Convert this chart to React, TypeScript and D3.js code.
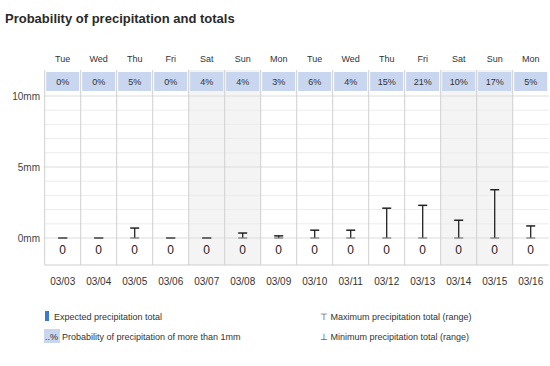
import { useEffect, useRef } from 'react';
import * as d3 from 'd3';

const dates = ['03/03', '03/04', '03/05', '03/06', '03/07', '03/08', '03/09', '03/10', '03/11', '03/12', '03/13', '03/14', '03/15', '03/16'];
const weekdays = ['Tue', 'Wed', 'Thu', 'Fri', 'Sat', 'Sun', 'Mon', 'Tue', 'Wed', 'Thu', 'Fri', 'Sat', 'Sun', 'Mon'];
const probability = [0, 0, 5, 0, 4, 4, 3, 6, 4, 15, 21, 10, 17, 5];
const expectedTotal = [0, 0, 0, 0, 0, 0, 0, 0, 0, 0, 0, 0, 0, 0];
const minTotal = [0, 0, 0, 0, 0, 0, 0, 0, 0, 0, 0, 0, 0, 0];
const maxTotal = [0, 0, 0.7, 0, 0, 0.35, 0.15, 0.55, 0.55, 2.1, 2.3, 1.25, 3.4, 0.85];
const yTicks = [0, 5, 10];
const gridTicks = [0, 1, 2, 3, 4, 5, 6, 7, 8, 9, 10];

const App = () => {
    const svgRef = useRef<SVGSVGElement>(null);

    useEffect(() => {
        const svg = d3.select(svgRef.current);
        svg.selectAll('*').remove();

        const plotTop = 70;
        const plotBottom = 265;
        const font = "'Liberation Sans', Arial, sans-serif";

        const x = d3.scaleBand().domain(dates).range([44.7, 548.7]).padding(0);
        const y = d3.scaleLinear().domain([0, 10]).range([238, 96]);

        svg.append('text')
            .attr('x', 5).attr('y', 23)
            .attr('font-family', font).attr('font-size', 13).attr('font-weight', 'bold')
            .attr('fill', '#2a2a2a')
            .text('Probability of precipitation and totals');

        // weekend shading
        svg.selectAll('.weekend')
            .data(dates.filter((d, i) => weekdays[i] === 'Sat' || weekdays[i] === 'Sun'))
            .enter().append('rect')
            .attr('x', d => x(d)!).attr('y', plotTop)
            .attr('width', x.bandwidth()).attr('height', plotBottom - plotTop)
            .attr('fill', '#f4f4f4');

        // horizontal grid
        svg.selectAll('.grid')
            .data(gridTicks)
            .enter().append('line')
            .attr('x1', 44.7).attr('x2', 548.7)
            .attr('y1', d => y(d)).attr('y2', d => y(d))
            .attr('stroke', d => d % 5 === 0 ? '#dcdcdc' : '#ececec')
            .attr('stroke-width', 1);

        // column separators
        svg.selectAll('.sep')
            .data(dates)
            .enter().append('line')
            .attr('x1', d => x(d)!).attr('x2', d => x(d)!)
            .attr('y1', plotTop).attr('y2', plotBottom)
            .attr('stroke', '#cfcfcf');

        svg.append('line')
            .attr('x1', 44.7).attr('x2', 548.7)
            .attr('y1', plotBottom).attr('y2', plotBottom)
            .attr('stroke', '#cfcfcf');

        // weekday labels
        svg.selectAll('.wd')
            .data(dates)
            .enter().append('text')
            .attr('x', d => x(d)! + x.bandwidth() / 2).attr('y', 62)
            .attr('text-anchor', 'middle')
            .attr('font-family', font).attr('font-size', 9).attr('fill', '#333')
            .text((d, i) => weekdays[i]);

        // probability boxes
        svg.selectAll('.pbox')
            .data(dates)
            .enter().append('rect')
            .attr('x', d => x(d)! + 1.5).attr('y', 72)
            .attr('width', x.bandwidth() - 3).attr('height', 19)
            .attr('fill', '#c8d6ef');

        svg.selectAll('.ptxt')
            .data(dates)
            .enter().append('text')
            .attr('x', d => x(d)! + x.bandwidth() / 2).attr('y', 85)
            .attr('text-anchor', 'middle')
            .attr('font-family', font).attr('font-size', 9).attr('fill', '#333')
            .text((d, i) => `${probability[i]}%`);

        // y axis labels
        svg.selectAll('.ylab')
            .data(yTicks)
            .enter().append('text')
            .attr('x', 40).attr('y', d => y(d) + 3.5)
            .attr('text-anchor', 'end')
            .attr('font-family', font).attr('font-size', 10).attr('fill', '#444')
            .text(d => `${d}mm`);

        // expected total bars
        svg.selectAll('.bar')
            .data(dates)
            .enter().append('rect')
            .attr('x', d => x(d)! + x.bandwidth() / 2 - 4)
            .attr('y', (d, i) => y(expectedTotal[i]))
            .attr('width', 8)
            .attr('height', (d, i) => y(0) - y(expectedTotal[i]))
            .attr('fill', '#3a7bd5');

        // range bars
        const range = svg.selectAll('.range')
            .data(dates)
            .enter().append('g')
            .attr('transform', d => `translate(${x(d)! + x.bandwidth() / 2},0)`);

        range.append('line')
            .attr('x1', 0).attr('x2', 0)
            .attr('y1', (d, i) => y(minTotal[i])).attr('y2', (d, i) => y(maxTotal[i]))
            .attr('stroke', '#222').attr('stroke-width', 1.3);
        range.append('line')
            .attr('x1', -4.5).attr('x2', 4.5)
            .attr('y1', (d, i) => y(maxTotal[i])).attr('y2', (d, i) => y(maxTotal[i]))
            .attr('stroke', '#222').attr('stroke-width', 1.5);
        range.append('line')
            .attr('x1', -4.5).attr('x2', 4.5)
            .attr('y1', (d, i) => y(minTotal[i])).attr('y2', (d, i) => y(minTotal[i]))
            .attr('stroke', '#777').attr('stroke-width', 1.2);

        // value labels
        svg.selectAll('.val')
            .data(dates)
            .enter().append('text')
            .attr('x', d => x(d)! + x.bandwidth() / 2).attr('y', 254)
            .attr('text-anchor', 'middle')
            .attr('font-family', font).attr('font-size', 12).attr('fill', '#222')
            .text((d, i) => `${expectedTotal[i]}`);

        // date labels
        svg.selectAll('.date')
            .data(dates)
            .enter().append('text')
            .attr('x', d => x(d)! + x.bandwidth() / 2).attr('y', 285)
            .attr('text-anchor', 'middle')
            .attr('font-family', font).attr('font-size', 10).attr('fill', '#333')
            .text(d => d);

        // legend
        const legend = svg.append('g')
            .attr('font-family', font).attr('font-size', 9).attr('fill', '#333');

        legend.append('rect').attr('x', 45).attr('y', 311).attr('width', 4).attr('height', 10).attr('fill', '#3a7bd5');
        legend.append('text').attr('x', 54).attr('y', 320).text('Expected precipitation total');

        legend.append('rect').attr('x', 44).attr('y', 329).attr('width', 16).attr('height', 14).attr('fill', '#c8d6ef');
        legend.append('text').attr('x', 45).attr('y', 340).text('..%');
        legend.append('text').attr('x', 62).attr('y', 340).text('Probability of precipitation of more than 1mm');

        legend.append('text').attr('x', 320).attr('y', 320).text('⊤ Maximum precipitation total (range)');
        legend.append('text').attr('x', 320).attr('y', 340).text('⊥ Minimum precipitation total (range)');
    }, []);

    return (
        <svg ref={svgRef} width={550} height={366}
            style={{ position: 'absolute', left: 0, top: 0, background: '#fff' }} />
    );
};

export default App;
